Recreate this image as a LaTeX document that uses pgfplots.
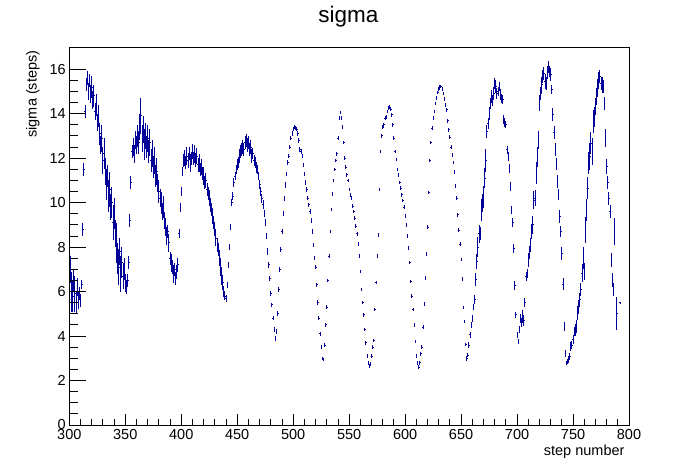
\documentclass[border=0pt]{standalone}
\usepackage{pgfplots}
\pgfplotsset{compat=1.18}
\usepackage{pgfplotstable}
\usepackage{fontspec}
\setmainfont{Liberation Sans}
\definecolor{rootblue}{RGB}{0,0,153}
\pgfplotstableread{
x y e
300 6.4 1.4
301 7.0 0.6
302 6.0 0.9
303 5.8 0.7
304 6.5 0.5
305 5.9 0.8
306 5.5 0.5
307 6.2 0.4
308 5.6 0.4
309 5.9 0.3
310 5.6 0.3
311 6.3 0.2
312 8.8 0.3
313 11.5 0.3
314 14.1 0.3
315 15.3 0.3
316 15.6 0.3
317 15.0 0.4
318 15.5 0.3
319 14.9 0.4
320 15.2 0.5
321 14.6 0.4
322 14.8 0.5
323 14.1 0.4
324 14.4 0.5
325 13.6 0.4
326 13.9 0.5
327 13.1 0.5
328 12.6 0.4
329 12.9 0.6
330 11.9 0.6
331 12.2 0.7
332 11.4 0.6
333 10.8 0.7
334 11.2 0.5
335 10.3 0.7
336 10.6 0.8
337 9.8 0.6
338 10.0 0.7
339 9.1 0.8
340 9.5 0.7
341 8.6 0.6
342 8.2 0.9
343 7.5 0.7
344 7.1 0.8
345 7.8 0.6
346 6.8 0.8
347 7.3 0.7
348 6.7 0.6
349 7.0 0.5
350 6.4 0.4
351 6.2 0.3
352 6.5 0.3
353 7.3 0.3
354 9.2 0.3
355 10.9 0.3
356 12.3 0.3
357 12.5 0.4
358 12.2 0.4
359 12.8 0.4
360 12.6 0.4
361 13.0 0.5
362 12.7 0.5
363 13.4 0.6
364 13.9 0.8
365 12.9 0.6
366 13.3 0.6
367 12.6 0.7
368 13.0 0.6
369 12.5 0.5
370 12.9 0.6
371 12.3 0.5
372 12.7 0.6
373 11.9 0.5
374 12.2 0.6
375 11.6 0.5
376 11.9 0.6
377 11.2 0.5
378 11.4 0.6
379 10.9 0.4
380 10.5 0.5
381 10.2 0.4
382 10.0 0.5
383 9.6 0.4
384 9.8 0.5
385 9.2 0.4
386 8.9 0.4
387 8.5 0.4
388 8.7 0.3
389 8.2 0.4
390 7.5 0.3
391 7.3 0.4
392 7.1 0.3
393 6.8 0.4
394 7.0 0.3
395 6.6 0.3
396 6.9 0.3
397 7.2 0.3
398 8.6 0.2
399 9.8 0.2
400 10.5 0.2
401 11.4 0.2
402 11.9 0.3
403 12.0 0.35
404 11.8 0.3
405 12.1 0.4
406 11.9 0.35
407 12.2 0.3
408 11.8 0.4
409 12.0 0.3
410 12.3 0.35
411 12.0 0.3
412 12.2 0.4
413 11.9 0.3
414 12.1 0.35
415 11.7 0.3
416 11.8 0.4
417 11.5 0.3
418 11.6 0.35
419 11.3 0.3
420 11.2 0.4
421 10.9 0.3
422 11.0 0.35
423 10.6 0.3
424 10.4 0.3
425 10.2 0.35
426 9.9 0.3
427 9.7 0.3
428 9.4 0.35
429 9.1 0.3
430 8.8 0.3
431 8.4 0.35
432 8.1 0.3
433 7.9 0.3
434 7.5 0.35
435 7.1 0.4
436 6.7 0.4
437 6.4 0.35
438 6.0 0.25
439 5.8 0.2
440 5.7 0.15
441 6.3 0.15
442 7.2 0.15
443 8.0 0.15
444 8.9 0.15
445 10.0 0.15
446 10.3 0.2
447 10.9 0.2
448 11.2 0.2
449 11.5 0.2
450 11.7 0.25
451 11.8 0.25
452 12.1 0.3
453 12.3 0.3
454 12.4 0.3
455 12.5 0.3
456 12.4 0.3
457 12.7 0.3
458 12.8 0.3
459 12.6 0.3
460 12.7 0.3
461 12.4 0.3
462 12.5 0.3
463 12.1 0.3
464 12.2 0.25
465 11.9 0.25
466 11.8 0.25
467 11.6 0.25
468 11.5 0.2
469 11.2 0.2
470 10.8 0.2
471 10.5 0.2
472 10.2 0.2
473 9.9 0.2
474 9.5 0.15
475 9.1 0.15
476 8.5 0.15
477 7.8 0.15
478 7.2 0.15
479 6.6 0.12
480 5.9 0.12
481 5.4 0.1
482 4.8 0.1
483 4.3 0.1
484 3.9 0.1
485 4.2 0.12
486 5.0 0.12
487 6.1 0.12
488 7.0 0.12
489 7.9 0.12
490 8.7 0.12
491 9.5 0.12
492 10.2 0.12
493 10.8 0.12
494 11.3 0.1
495 11.8 0.1
496 12.1 0.1
497 12.5 0.1
498 12.9 0.1
499 13.1 0.1
500 13.3 0.1
501 13.4 0.1
502 13.35 0.1
503 13.3 0.1
504 13.1 0.1
505 12.8 0.1
506 12.4 0.1
507 12.3 0.1
508 12.1 0.1
509 11.7 0.1
510 11.3 0.1
511 10.9 0.1
512 10.6 0.1
513 10.2 0.1
514 9.9 0.1
515 9.6 0.1
516 9.2 0.1
517 8.7 0.1
518 8.1 0.1
519 7.5 0.1
520 7.1 0.1
521 6.3 0.1
522 5.5 0.1
523 4.8 0.1
524 4.1 0.1
525 3.5 0.08
526 3.0 0.08
527 2.95 0.08
528 3.6 0.08
529 4.5 0.08
530 5.3 0.08
531 6.5 0.08
532 7.6 0.08
533 8.7 0.08
534 9.7 0.08
535 10.4 0.08
536 11.0 0.08
537 11.5 0.08
538 11.9 0.08
539 12.2 0.08
540 12.9 0.08
541 13.8 0.08
542 14.05 0.08
543 13.8 0.08
544 13.4 0.08
545 12.7 0.08
546 12.0 0.08
547 11.6 0.08
548 11.25 0.08
549 11.0 0.08
550 10.6 0.08
551 10.35 0.08
552 10.2 0.08
553 9.85 0.08
554 9.6 0.08
555 9.3 0.08
556 8.95 0.08
557 8.6 0.08
558 8.15 0.08
559 7.6 0.08
560 6.9 0.08
561 6.1 0.08
562 5.5 0.08
563 4.95 0.08
564 4.3 0.08
565 3.7 0.08
566 3.1 0.08
567 2.8 0.08
568 2.65 0.08
569 2.75 0.08
570 3.1 0.08
571 3.5 0.08
572 3.8 0.08
573 5.2 0.08
574 6.4 0.08
575 7.6 0.08
576 8.55 0.08
577 10.6 0.08
578 12.3 0.08
579 13.0 0.08
580 13.4 0.08
581 13.5 0.08
582 13.8 0.08
583 13.85 0.08
584 14.1 0.08
585 14.25 0.08
586 14.3 0.08
587 14.2 0.08
588 13.95 0.08
589 13.5 0.08
590 12.9 0.08
591 12.3 0.08
592 11.95 0.08
593 11.5 0.08
594 11.25 0.08
595 10.9 0.08
596 10.65 0.08
597 10.35 0.08
598 10.1 0.08
599 9.8 0.08
600 9.4 0.08
601 9.0 0.08
602 8.5 0.08
603 7.95 0.08
604 7.3 0.08
605 6.45 0.08
606 5.8 0.08
607 5.2 0.08
608 4.5 0.08
609 3.75 0.08
610 3.1 0.08
611 2.8 0.08
612 2.6 0.08
613 2.8 0.08
614 3.2 0.08
615 3.5 0.08
616 4.4 0.08
617 5.45 0.08
618 6.6 0.08
619 7.7 0.08
620 8.9 0.08
621 10.45 0.08
622 11.9 0.08
623 12.7 0.08
624 13.35 0.08
625 13.8 0.08
626 14.1 0.08
627 14.45 0.08
628 14.7 0.08
629 14.95 0.08
630 15.1 0.08
631 15.2 0.08
632 15.22 0.08
633 15.1 0.08
634 14.9 0.08
635 14.65 0.08
636 14.4 0.08
637 14.17 0.08
638 13.68 0.08
639 13.27 0.08
640 12.94 0.08
641 12.5 0.08
642 12.15 0.08
643 11.8 0.08
644 11.37 0.08
645 10.75 0.08
646 10.2 0.08
647 9.45 0.08
648 8.77 0.08
649 8.14 0.08
650 7.45 0.08
651 6.57 0.08
652 5.28 0.08
653 4.65 0.08
654 3.63 0.08
655 3.0 0.1
656 3.15 0.1
657 3.6 0.12
658 4.05 0.12
659 4.5 0.15
660 4.8 0.15
661 5.3 0.15
662 5.66 0.2
663 6.55 0.3
664 7.35 0.35
665 8.0 0.45
666 8.6 0.4
667 8.6 0.3
668 9.67 0.5
669 10.0 0.4
670 10.27 0.5
671 11.1 0.45
672 11.9 0.5
673 13.2 0.3
674 13.57 0.25
675 14.0 0.3
676 14.47 0.25
677 14.77 0.3
678 14.6 0.25
679 14.92 0.3
680 15.37 0.25
681 15.22 0.3
682 14.92 0.25
683 15.0 0.2
684 15.22 0.2
685 14.85 0.25
686 14.7 0.2
687 14.62 0.2
688 13.72 0.2
689 13.6 0.2
690 13.5 0.15
691 12.37 0.2
692 12.07 0.2
693 11.52 0.2
694 10.72 0.2
695 9.67 0.2
696 9.12 0.2
697 7.95 0.2
698 6.28 0.2
699 4.95 0.15
700 4.05 0.15
701 3.75 0.12
702 4.3 0.15
703 4.8 0.2
704 4.6 0.2
705 4.88 0.3
706 4.7 0.25
707 5.5 0.2
708 6.67 0.2
709 6.82 0.2
710 7.42 0.3
711 7.77 0.3
712 8.1 0.3
713 8.7 0.35
714 9.0 0.4
715 10.12 0.4
716 10.2 0.35
717 11.35 0.5
718 12.07 0.45
719 12.82 0.4
720 14.47 0.35
721 14.92 0.3
722 15.3 0.35
723 15.67 0.3
724 15.82 0.3
725 15.45 0.35
726 15.37 0.3
727 15.85 0.3
728 16.1 0.25
729 15.9 0.25
730 15.75 0.3
731 15.07 0.2
732 13.95 0.3
733 13.15 0.3
734 12.4 0.3
735 11.74 0.25
736 10.95 0.3
737 10.35 0.25
738 9.37 0.3
739 8.7 0.25
740 7.72 0.3
741 6.34 0.25
742 4.43 0.2
743 3.23 0.15
744 2.78 0.1
745 2.85 0.1
746 2.95 0.15
747 3.08 0.15
748 3.53 0.2
749 3.6 0.2
750 3.83 0.2
751 4.2 0.2
752 4.27 0.25
753 4.43 0.3
754 5.03 0.3
755 5.33 0.3
756 5.63 0.3
757 6.08 0.3
758 6.82 0.4
759 7.5 0.5
760 6.9 0.4
761 8.77 0.6
762 9.67 0.5
763 10.65 0.5
764 11.77 0.5
765 12.07 0.6
766 12.67 0.5
767 12.3 0.6
768 13.65 0.5
769 13.87 0.45
770 14.32 0.4
771 14.77 0.4
772 15.15 0.4
773 15.52 0.35
774 15.67 0.3
775 15.37 0.3
776 15.3 0.35
777 15.22 0.3
778 14.47 0.3
779 12.9 0.4
780 11.62 0.35
781 10.9 0.3
782 10.2 0.3
783 9.6 0.3
784 7.42 0.3
785 6.52 0.3
786 6.08 0.3
787 8.7 0.6
789 5.0 0.75
792 5.5 0.05
}\sigmadata
\begin{document}
\begin{tikzpicture}
\path[use as bounding box] (0,0) rectangle (698bp,474bp);
\pgfplotsset{
  rootframe/.style={
    at={(69.3bp,49bp)}, anchor=south west,
    scale only axis, width=559.7bp, height=378bp,
    xmin=300, xmax=800, ymin=0, ymax=17,
    tick align=inside,
    axis line style={line width=0.9bp, black},
    every tick/.style={line width=0.9bp, black},
    /pgf/number format/assume math mode=true,
    ticklabel style={font=\fontsize{14.5bp}{16bp}\selectfont},
  }
}
\begin{axis}[rootframe,
  xtick={300,350,...,800}, minor x tick num=4,
  xtick pos=left,
  major tick length=11bp, minor tick length=5.6bp,
  ytick=\empty,
  xticklabel style={yshift=-1bp},
]
\addplot[draw=none, mark=none,
  error bars/.cd, y dir=both, y explicit, x dir=both, x fixed=0.5,
  error mark=none, error bar style={line width=0.9bp, draw=rootblue, solid}]
  table[x=x, y=y, y error=e] {\sigmadata};
\end{axis}
\begin{axis}[rootframe,
  ytick={0,2,...,16}, minor y tick num=3,
  ytick pos=left,
  major tick length=17bp, minor tick length=8.5bp,
  xtick=\empty,
]
\end{axis}
\node[font=\fontsize{22.5bp}{25bp}\selectfont] at (348.5bp,457bp) {sigma};
\node[font=\fontsize{14.5bp}{16bp}\selectfont, anchor=east] at (628bp,22bp) {step number};
\node[font=\fontsize{14.5bp}{16bp}\selectfont, rotate=90, anchor=east] at (33bp,427bp) {sigma (steps)};
\end{tikzpicture}
\end{document}
